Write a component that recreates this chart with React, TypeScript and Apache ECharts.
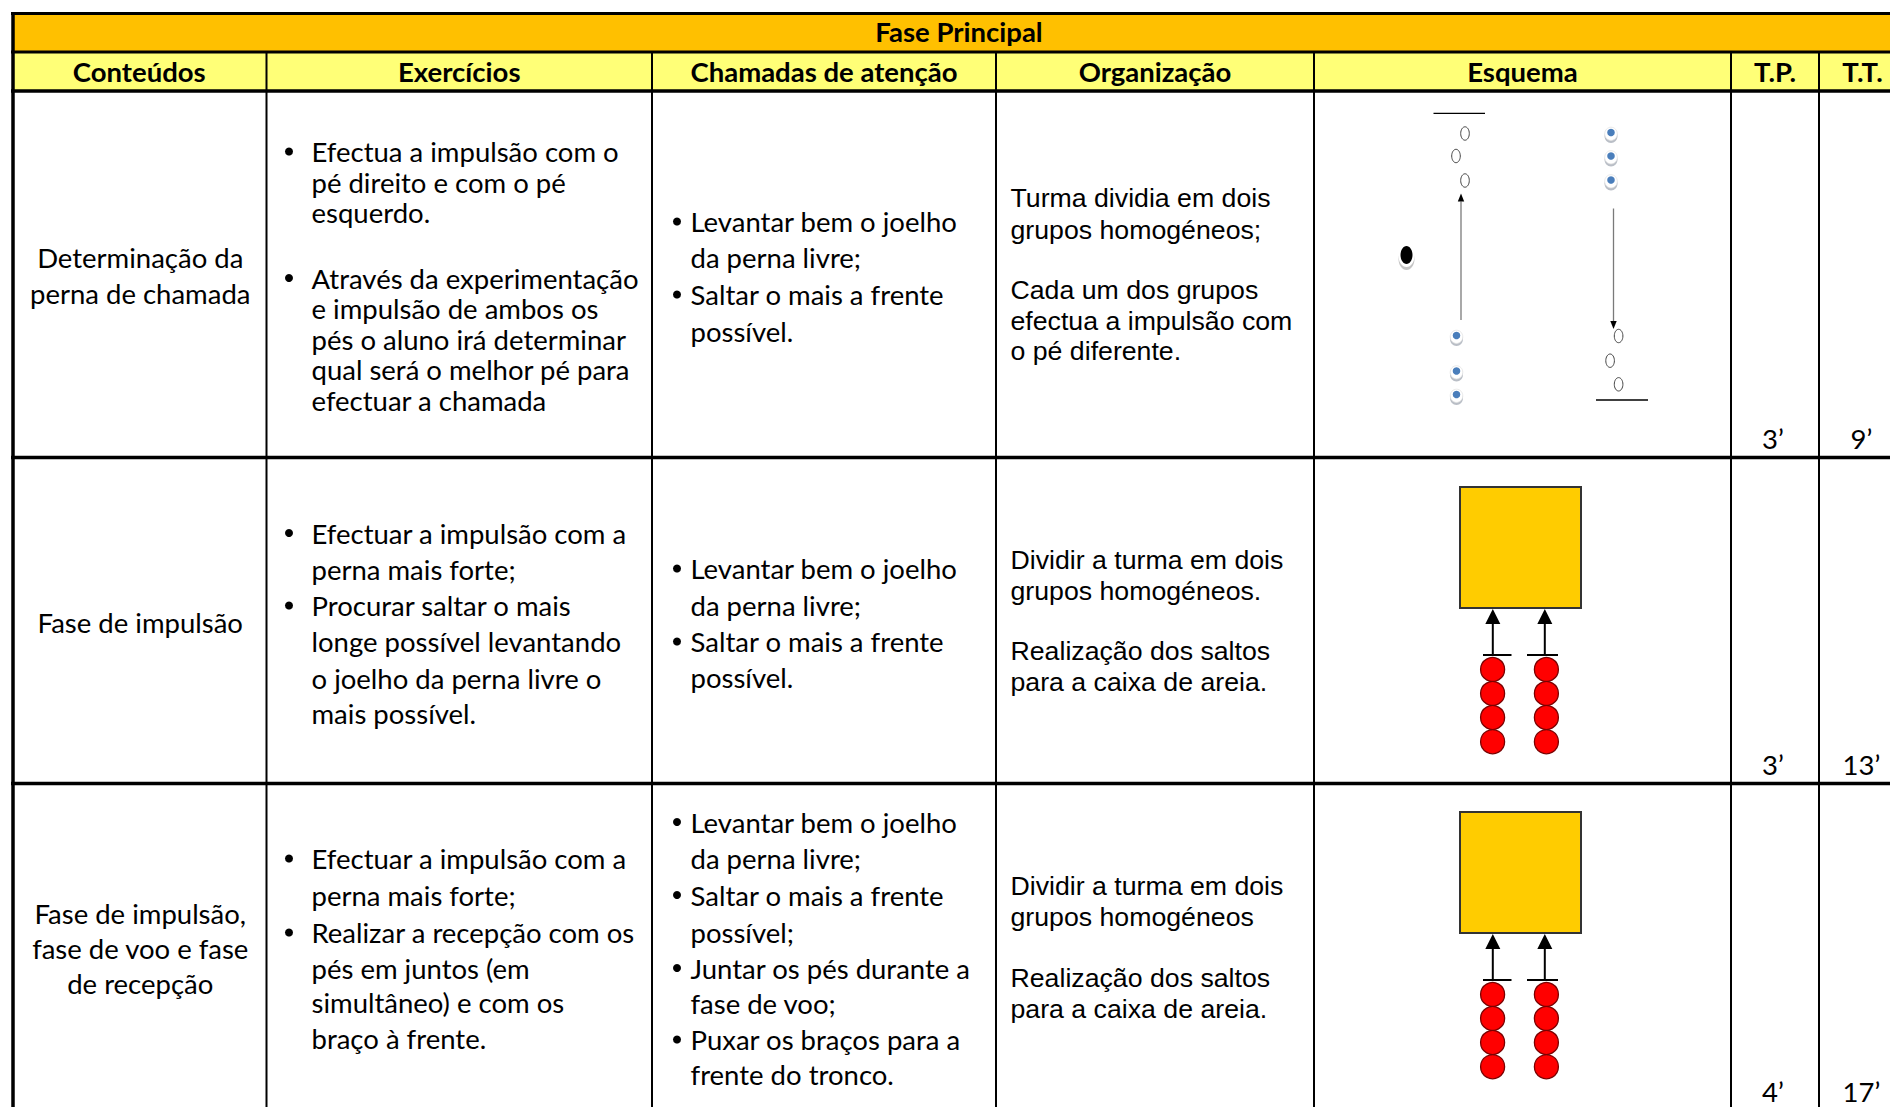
import React, { useEffect, useRef } from "react";
import * as echarts from "echarts";

// ---------- DATA ----------
const title = "Fase Principal";
const headers = ["Conteúdos", "Exercícios", "Chamadas de atenção", "Organização", "Esquema", "T.P.", "T.T."];

const conteudos: string[][] = [
  ["Determinação da", "perna de chamada"],
  ["Fase de impulsão"],
  ["Fase de impulsão,", "fase de voo e fase", "de recepção"],
];

const exercicios: string[][][] = [
  [
    ["Efectua a impulsão com o", "pé direito e com o pé", "esquerdo."],
    ["Através da experimentação", "e impulsão de ambos os", "pés o aluno irá determinar", "qual será o melhor pé para", "efectuar a chamada"],
  ],
  [
    ["Efectuar a impulsão com a", "perna mais forte;"],
    ["Procurar saltar o mais", "longe possível levantando", "o joelho da perna livre o", "mais possível."],
  ],
  [
    ["Efectuar a impulsão com a", "perna mais forte;"],
    ["Realizar a recepção com os", "pés em juntos (em", "simultâneo) e com os", "braço à frente."],
  ],
];

const chamadas: string[][][] = [
  [
    ["Levantar bem o joelho", "da perna livre;"],
    ["Saltar o mais a frente", "possível."],
  ],
  [
    ["Levantar bem o joelho", "da perna livre;"],
    ["Saltar o mais a frente", "possível."],
  ],
  [
    ["Levantar bem o joelho", "da perna livre;"],
    ["Saltar o mais a frente", "possível;"],
    ["Juntar os pés durante a", "fase de voo;"],
    ["Puxar os braços para a", "frente do tronco."],
  ],
];

const organizacao: string[][] = [
  ["Turma dividia em dois", "grupos homogéneos;", "Cada um dos grupos", "efectua a impulsão com", "o pé diferente."],
  ["Dividir a turma em dois", "grupos homogéneos.", "Realização dos saltos", "para a caixa de areia."],
  ["Dividir a turma em dois", "grupos homogéneos", "Realização dos saltos", "para a caixa de areia."],
];

const tempoParcial = ["3’", "3’", "4’"];
const tempoTotal = ["9’", "13’", "17’"];

// ---------- LAYOUT ----------
const COLS = [12, 266.5, 652, 996, 1314, 1731, 1819, 1906];
const Y_TOP = 13.5;
const Y_TITLE_BOTTOM = 52;
const Y_HEAD_BOTTOM = 91;
const ROW_BOTTOMS = [457.5, 783.5];
const PAGE_H = 1107;

const conteudosY = [[257.5, 293], [622], [913, 948, 983.5]];
const exerciciosY = [
  [[151.5, 182, 212.5], [278, 308.5, 339.5, 369.5, 400.5]],
  [[533, 569], [605.5, 641.5, 678, 713]],
  [[858.5, 895.5], [932.5, 968.5, 1002.5, 1038.5]],
];
const chamadasY = [
  [[221.5, 257.5], [294.5, 331]],
  [[568.5, 605], [641.5, 677.5]],
  [[822, 858.5], [895, 932], [968, 1003.5], [1039.5, 1074.5]],
];
const organizacaoY = [
  [198, 229.5, 290, 321, 351],
  [559.5, 590.5, 651, 682],
  [886, 917.3, 977.6, 1009],
];
const tempoY = [438, 764, 1091];

const CAL = "Lato, 'Open Sans', sans-serif";
const ARIAL = "'Liberation Sans', Arial, sans-serif";
const BODY_SIZE = 27.5;
const ARIAL_SIZE = 26.7;

function txt(text: string, x: number, y: number, o: any = {}) {
  return {
    type: "text",
    x,
    y,
    silent: true,
    style: {
      text,
      x: 0,
      y: 0,
      fill: "#000",
      fontSize: o.size ?? BODY_SIZE,
      fontFamily: o.family ?? CAL,
      fontWeight: o.weight ?? "normal",
      align: o.align ?? "left",
      textAlign: o.align ?? "left",
      verticalAlign: "middle",
      textVerticalAlign: "middle",
    },
  };
}

function hline(x1: number, x2: number, y: number, w: number, color = "#000") {
  return { type: "line", silent: true, shape: { x1, y1: y, x2, y2: y }, style: { stroke: color, lineWidth: w } };
}
function vline(x: number, y1: number, y2: number, w: number, color = "#000") {
  return { type: "line", silent: true, shape: { x1: x, y1, x2: x, y2 }, style: { stroke: color, lineWidth: w } };
}
function bullet(x: number, y: number) {
  return { type: "circle", silent: true, shape: { cx: x, cy: y, r: 4 }, style: { fill: "#000" } };
}
function hollow(cx: number, cy: number) {
  return { type: "ellipse", silent: true, shape: { cx, cy, rx: 4.3, ry: 6.7 }, style: { fill: "#fff", stroke: "#444", lineWidth: 1 } };
}
function blueDot(cx: number, cy: number) {
  return [
    { type: "ellipse", silent: true, shape: { cx, cy: cy + 2.5, rx: 6.5, ry: 7 }, style: { fill: "#b9bec6" } },
    { type: "ellipse", silent: true, shape: { cx, cy: cy + 0.3, rx: 6.3, ry: 6.6 }, style: { fill: "#fff", stroke: "#e3e3e3", lineWidth: 0.8 } },
    { type: "circle", silent: true, shape: { cx, cy: cy - 1, r: 3.8 }, style: { fill: "#4a7ebb" } },
  ];
}
function blackDot(cx: number, cy: number) {
  return [
    { type: "ellipse", silent: true, shape: { cx, cy: cy + 3, rx: 8, ry: 11 }, style: { fill: "#c4c4c4" } },
    { type: "ellipse", silent: true, shape: { cx, cy, rx: 8, ry: 11 }, style: { fill: "#fff" } },
    { type: "ellipse", silent: true, shape: { cx, cy: cy - 1, rx: 6, ry: 9 }, style: { fill: "#000" } },
  ];
}
function thinArrow(x: number, yFrom: number, yTip: number) {
  const dir = yTip < yFrom ? -1 : 1;
  const base = yTip - dir * 8;
  return [
    vline(x, yFrom, base, 1.3, "#7a7a7a"),
    { type: "polygon", silent: true, shape: { points: [[x, yTip], [x - 3.2, base], [x + 3.2, base]] }, style: { fill: "#000" } },
  ];
}

function sandScheme(sqTop: number) {
  const els: any[] = [];
  const sqL = 1460, sqW = 121;
  els.push({ type: "rect", silent: true, shape: { x: sqL, y: sqTop, width: sqW, height: sqW }, style: { fill: "#FFCC00", stroke: "#333", lineWidth: 2 } });
  const arrowsX = [1492.8, 1544.8];
  const barX = [[1483, 1511.5], [1527, 1558]];
  const circX = [1492.6, 1546.4];
  const bottom = sqTop + sqW;
  arrowsX.forEach((ax, i) => {
    els.push(vline(ax, bottom + 14, bottom + 47, 2));
    els.push({ type: "polygon", silent: true, shape: { points: [[ax, bottom + 1], [ax - 7.5, bottom + 16], [ax + 7.5, bottom + 16]] }, style: { fill: "#000" } });
    els.push(hline(barX[i][0], barX[i][1], bottom + 47, 2));
  });
  const offs = [61.5, 85.5, 109.5, 133.7];
  circX.forEach((cx) => {
    offs.forEach((o) => {
      els.push({ type: "circle", silent: true, shape: { cx, cy: bottom + o, r: 12 }, style: { fill: "#FF0000", stroke: "#7a0000", lineWidth: 1.3 } });
    });
  });
  return els;
}

function buildElements() {
  const els: any[] = [];
  const xL = COLS[0], xR = COLS[COLS.length - 1];
  // fills
  els.push({ type: "rect", silent: true, shape: { x: xL, y: Y_TOP, width: xR - xL, height: Y_TITLE_BOTTOM - Y_TOP }, style: { fill: "#FFC000" } });
  els.push({ type: "rect", silent: true, shape: { x: xL, y: Y_TITLE_BOTTOM, width: xR - xL, height: Y_HEAD_BOTTOM - Y_TITLE_BOTTOM }, style: { fill: "#FFFF77" } });

  // title + headers
  els.push(txt(title, (xL + xR) / 2, 31.5, { weight: "bold", align: "center" }));
  headers.forEach((h, i) => {
    els.push(txt(h, (COLS[i] + COLS[i + 1]) / 2, 71.5, { weight: "bold", align: "center" }));
  });

  // body rows
  for (let r = 0; r < 3; r++) {
    const cx0 = (COLS[0] + COLS[1]) / 2 + 1;
    conteudos[r].forEach((line, k) => els.push(txt(line, cx0, conteudosY[r][k], { align: "center" })));

    exercicios[r].forEach((item, b) => {
      els.push(bullet(289, exerciciosY[r][b][0]));
      item.forEach((line, k) => els.push(txt(line, 311.5, exerciciosY[r][b][k])));
    });

    chamadas[r].forEach((item, b) => {
      els.push(bullet(677, chamadasY[r][b][0]));
      item.forEach((line, k) => els.push(txt(line, 690.5, chamadasY[r][b][k])));
    });

    organizacao[r].forEach((line, k) => els.push(txt(line, 1010.5, organizacaoY[r][k], { family: ARIAL, size: ARIAL_SIZE })));

    els.push(txt(tempoParcial[r], (COLS[5] + COLS[6]) / 2 - 2, tempoY[r], { align: "center" }));
    els.push(txt(tempoTotal[r], (COLS[6] + COLS[7]) / 2 - 1, tempoY[r], { align: "center" }));
  }

  // scheme row 1
  els.push(hline(1433.5, 1485, 113.3, 1.3));
  [[1465, 133.5], [1456, 156], [1465, 180.5]].forEach(([x, y]) => els.push(hollow(x, y)));
  thinArrow(1461, 320, 193.5).forEach((e) => els.push(e));
  [336.5, 372, 395.5].forEach((y) => blueDot(1456.5, y).forEach((e) => els.push(e)));
  blackDot(1406.5, 256).forEach((e) => els.push(e));
  [133.5, 157, 181].forEach((y) => blueDot(1611, y).forEach((e) => els.push(e)));
  thinArrow(1613.5, 208.5, 329).forEach((e) => els.push(e));
  [[1618.6, 336], [1610.1, 360.7], [1618.6, 384.3]].forEach(([x, y]) => els.push(hollow(x, y)));
  els.push(hline(1596, 1648, 400, 1.3));

  // schemes rows 2 and 3
  sandScheme(487).forEach((e) => els.push(e));
  sandScheme(812).forEach((e) => els.push(e));

  // grid lines
  els.push(hline(xL - 1, xR, Y_TOP, 3));
  els.push(hline(xL - 1, xR, Y_TITLE_BOTTOM, 3));
  els.push(hline(xL - 1, xR, Y_HEAD_BOTTOM, 3.5));
  ROW_BOTTOMS.forEach((y) => els.push(hline(xL - 1, xR, y, 3.5)));
  for (let i = 1; i < COLS.length - 1; i++) els.push(vline(COLS[i], Y_TITLE_BOTTOM, PAGE_H, 2));
  els.push(vline(13, Y_TOP - 1.5, PAGE_H, 3.5));
  els.push(vline(xR, Y_TOP - 1.5, PAGE_H, 3.5));
  return els;
}

export default function App() {
  const ref = useRef<HTMLDivElement>(null);
  useEffect(() => {
    if (!ref.current) return;
    const chart = echarts.init(ref.current, undefined, { renderer: "svg" });
    chart.setOption({
      animation: false,
      backgroundColor: "#ffffff",
      graphic: { elements: buildElements() },
    });
    return () => chart.dispose();
  }, []);
  return (
    <div
      ref={ref}
      style={{ position: "fixed", left: 0, top: 0, width: "1890px", height: "1107px", background: "#fff" }}
    />
  );
}
